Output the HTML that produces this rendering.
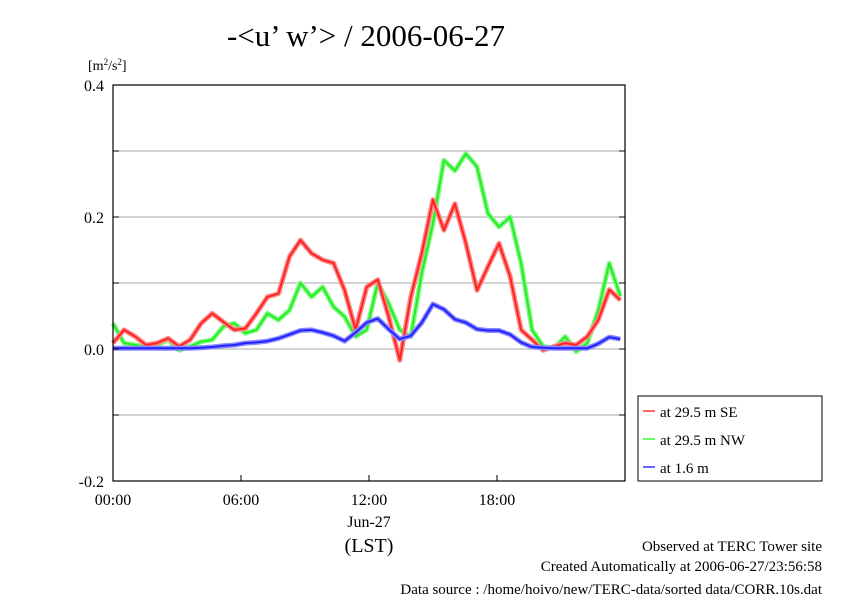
<!DOCTYPE html>
<html><head><meta charset="utf-8"><style>
body{margin:0;background:#fff;}
svg text{font-family:"Liberation Serif",serif;fill:#000;}
</style></head><body>
<svg width="842" height="595" xmlns="http://www.w3.org/2000/svg">
<text x="366" y="46" font-size="31" text-anchor="middle">-&lt;u’ w’&gt; / 2006-06-27</text>
<text x="88" y="70" font-size="14">[m<tspan font-size="9" dy="-5">2</tspan><tspan dy="5">/s</tspan><tspan font-size="9" dy="-5">2</tspan><tspan dy="5">]</tspan></text>
<g id="grid"></g>
<g id="series"></g>
<rect x="113" y="85" width="512" height="396" fill="none" stroke="#000" stroke-width="1.2"/>
<g id="axes"></g>
<text x="369" y="527" font-size="16" text-anchor="middle">Jun-27</text>
<text x="369" y="552" font-size="20" text-anchor="middle">(LST)</text>
<g>
<rect x="638" y="396" width="184" height="85" fill="#fff" stroke="#000" stroke-width="1"/>
<line x1="643" y1="411" x2="655" y2="411" stroke="#f33" stroke-width="1.5"/>
<text x="660" y="417" font-size="15">at 29.5 m SE</text>
<line x1="643" y1="439" x2="655" y2="439" stroke="#3f3" stroke-width="1.5"/>
<text x="660" y="445" font-size="15">at 29.5 m NW</text>
<line x1="643" y1="467" x2="655" y2="467" stroke="#33f" stroke-width="1.5"/>
<text x="660" y="473" font-size="15">at 1.6 m</text>
</g>
<text x="822" y="551" font-size="15" text-anchor="end">Observed at TERC Tower site</text>
<text x="822" y="571" font-size="15" text-anchor="end">Created Automatically at 2006-06-27/23:56:58</text>
<text x="822" y="594" font-size="15" text-anchor="end">Data source : /home/hoivo/new/TERC-data/sorted  data/CORR.10s.dat</text>
</svg>
<script>
const yTicks=[0.4,0.2,0.0,-0.2];
const yTickLabels=["0.4","0.2","0.0","-0.2"];
const yGrid=[0.3,0.2,0.1,0.0,-0.1];
const xTicks=[0,6,12,18];
const xTickLabels=["00:00","06:00","12:00","18:00"];
const seValues=[0.009,0.029,0.019,0.006,0.009,0.016,0.004,0.014,0.039,0.054,0.041,0.029,0.031,0.054,0.079,0.084,0.14,0.165,0.145,0.135,0.13,0.089,0.029,0.094,0.105,0.049,-0.017,0.079,0.145,0.226,0.18,0.22,0.16,0.089,0.125,0.16,0.11,0.029,0.014,-0.002,0.004,0.009,0.006,0.019,0.044,0.09,0.074];
const nwValues=[0.039,0.009,0.006,0.004,0.006,0.014,-0.002,0.004,0.011,0.014,0.034,0.039,0.024,0.029,0.054,0.044,0.059,0.1,0.079,0.094,0.064,0.049,0.019,0.029,0.1,0.069,0.029,0.019,0.115,0.19,0.286,0.27,0.296,0.276,0.205,0.185,0.2,0.13,0.029,0.004,0.001,0.019,-0.004,0.009,0.059,0.13,0.08];
const lowValues=[0.001,0.001,0.001,0.001,0.001,0.001,0.001,0.001,0.002,0.003,0.005,0.006,0.009,0.01,0.012,0.016,0.022,0.028,0.029,0.025,0.02,0.012,0.025,0.04,0.046,0.03,0.015,0.02,0.04,0.068,0.06,0.045,0.04,0.03,0.028,0.028,0.022,0.01,0.003,0.002,0.001,0.001,0.001,0.001,0.008,0.018,0.015];
const stepHours=0.517;
const NS="http://www.w3.org/2000/svg";
const xS=h=>113+h*512/24;
const yS=v=>349-v*660;
function mk(t,a,p){const e=document.createElementNS(NS,t);for(const k in a)e.setAttribute(k,a[k]);p.appendChild(e);return e;}
const grid=document.getElementById('grid');
yGrid.forEach(v=>{
const l=mk('line',{x1:113,x2:625,y1:yS(v),y2:yS(v),stroke:'#aaa','stroke-width':1},grid);


});
const axes=document.getElementById('axes');
yGrid.concat([0.4,-0.2]).forEach(v=>{
[[113,119],[619,625]].forEach(([a,b])=>{const t=mk('line',{x1:a,x2:b,y1:yS(v),y2:yS(v),stroke:'#000'},axes);

});
});
yTicks.forEach((v,i)=>{
const t=mk('text',{x:104,y:yS(v)+6,'font-size':16,'text-anchor':'end'},axes);t.textContent=yTickLabels[i];


});
xTicks.forEach((h,i)=>{
const t=mk('text',{x:xS(h),y:505,'font-size':16,'text-anchor':'middle'},axes);t.textContent=xTickLabels[i];


mk('line',{x1:xS(h),x2:xS(h),y1:481,y2:475,stroke:'#000'},axes);
});
const ser=document.getElementById('series');
[[nwValues,'#22ee22','#88f888','series-nw'],[seValues,'#ff2222','#f88','series-se'],[lowValues,'#2222ff','#88f','series-1-6m']].forEach(([vals,c,h,n])=>{
const d=vals.map((v,i)=>(i?'L':'M')+xS(i*stepHours).toFixed(1)+','+yS(v).toFixed(1)).join('');
const g=mk('g',{},ser);


mk('path',{d:d,fill:'none',stroke:h,'stroke-width':5,'stroke-linejoin':'round'},g);
mk('path',{d:d,fill:'none',stroke:c,'stroke-width':2,'stroke-linejoin':'round'},g);
});
</script>
</body></html>
